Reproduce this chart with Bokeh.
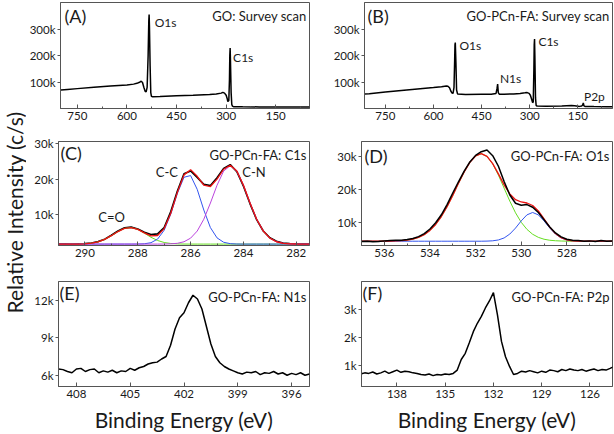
from bokeh.plotting import figure
from bokeh.layouts import row, column
from bokeh.models import Range1d, FixedTicker, Label, CustomJSTickFormatter
from bokeh.embed import file_html
from bokeh.resources import INLINE

FONT = "Lato"

# ---------------- data (binding energy in eV, intensity in k c/s) ----------------
# (A) GO survey
a_pts = [(800, 70), (780, 72), (750, 75), (700, 80), (650, 85), (600, 89), (580, 92), (570, 95),
         (562, 99), (557, 103), (553, 98), (549, 80), (545, 65), (542, 63), (539, 80), (536, 200),
         (534, 330), (533, 355), (532, 310), (530, 160), (528, 60), (526, 46), (522, 44), (500, 45),
         (450, 48), (400, 50), (350, 53), (330, 55), (315, 58), (310, 61), (305, 58), (300, 50),
         (297, 38), (295, 26), (292, 30), (290, 110), (289, 200), (288, 228), (287, 180), (285, 60),
         (283, 15), (281, 9), (278, 7), (250, 6.5), (200, 6), (150, 6), (100, 5.5), (48, 5.5)]
# (B) GO-PCn-FA survey
b_pts = [(815, 55), (800, 56), (750, 62), (700, 68), (650, 74), (600, 79), (575, 82), (565, 84),
         (560, 85), (555, 84), (550, 78), (546, 66), (542, 58), (539, 57), (536, 80), (534, 180),
         (533, 240), (532, 249), (530, 170), (528, 70), (525, 55), (500, 53), (450, 54), (420, 54),
         (405, 57), (402, 75), (400, 92), (398, 60), (395, 54), (380, 54), (350, 55), (330, 57),
         (315, 59), (308, 60), (302, 57), (298, 50), (294, 35), (291, 22), (289, 25), (287, 150),
         (286, 240), (285, 262), (284, 200), (282, 40), (280, 12), (277, 9), (250, 8.5), (200, 9),
         (170, 11), (160, 10), (145, 8), (138, 9), (135, 13), (133, 21), (131, 10), (128, 8),
         (100, 7.5), (60, 7), (42, 7)]
# (C) C1s high resolution
c_be = [291.0, 290.75, 290.5, 290.25, 290.0, 289.75, 289.5, 289.25, 289.0, 288.75, 288.5, 288.25, 288.0,
        287.75, 287.5, 287.25, 287.0, 286.75, 286.5, 286.25, 286.0, 285.75, 285.5, 285.25, 285.0, 284.75,
        284.5, 284.25, 284.0, 283.75, 283.5, 283.25, 283.0, 282.75, 282.5, 282.25, 282.0, 281.75, 281.5]
c_raw = [1.7, 1.65, 1.6, 1.7, 1.75, 1.9, 2.3, 3.0, 4.1, 5.3, 6.2, 6.4, 5.9, 4.95, 4.3, 4.5, 6.3, 10.8, 16.6,
         21.5, 22.3, 20.5, 18.5, 18.2, 20.4, 23.0, 24.1, 22.1, 18.0, 13.0, 8.5, 5.3, 3.4, 2.4, 1.9, 1.75,
         1.7, 1.65, 1.7]
c_fit = [1.6, 1.6, 1.6, 1.61, 1.68, 1.85, 2.23, 2.94, 3.98, 5.15, 6.05, 6.28, 5.76, 4.78, 3.92, 4.03, 5.99,
         10.35, 16.25, 21.2, 22.68, 20.79, 18.28, 17.9, 20.01, 22.79, 23.92, 22.29, 18.25, 13.23, 8.64, 5.29,
         3.28, 2.26, 1.82, 1.67, 1.62, 1.6, 1.6]
c_co = [1.6, 1.6, 1.6, 1.61, 1.68, 1.85, 2.23, 2.94, 3.98, 5.15, 6.05, 6.28, 5.75, 4.69, 3.53, 2.62, 2.05,
        1.77, 1.65, 1.61, 1.6, 1.6, 1.6, 1.6, 1.6, 1.6, 1.6, 1.6, 1.6, 1.6, 1.6, 1.6, 1.6, 1.6, 1.6, 1.6,
        1.6, 1.6, 1.6]
c_cc = [1.6, 1.6, 1.6, 1.6, 1.6, 1.6, 1.6, 1.6, 1.6, 1.6, 1.6, 1.6, 1.61, 1.69, 1.99, 3.01, 5.52, 10.11,
        15.98, 20.53, 21.0, 17.1, 11.24, 6.27, 3.36, 2.12, 1.72, 1.62, 1.6, 1.6, 1.6, 1.6, 1.6, 1.6, 1.6,
        1.6, 1.6, 1.6, 1.6]
c_cn = [1.6, 1.6, 1.6, 1.6, 1.6, 1.6, 1.6, 1.6, 1.6, 1.6, 1.6, 1.6, 1.6, 1.6, 1.6, 1.6, 1.62, 1.67, 1.82,
        2.26, 3.28, 5.29, 8.64, 13.23, 18.25, 22.27, 23.8, 22.27, 18.25, 13.23, 8.64, 5.29, 3.28, 2.26,
        1.82, 1.67, 1.62, 1.6, 1.6]
# (D) O1s high resolution
d_be = [537.0, 536.75, 536.5, 536.25, 536.0, 535.75, 535.5, 535.25, 535.0, 534.75, 534.5, 534.25, 534.0,
        533.75, 533.5, 533.25, 533.0, 532.75, 532.5, 532.25, 532.0, 531.75, 531.5, 531.25, 531.0, 530.75,
        530.5, 530.25, 530.0, 529.75, 529.5, 529.25, 529.0, 528.75, 528.5, 528.25, 528.0, 527.75, 527.5,
        527.25, 527.0, 526.75, 526.5, 526.25, 526.0]
d_raw = [4.2, 4.3, 4.1, 4.2, 4.4, 4.5, 4.6, 4.6, 4.8, 5.1, 5.7, 6.6, 8.0, 9.9, 12.3, 15.4, 18.9, 22.3, 25.5,
         28.3, 30.3, 31.4, 31.9, 30.2, 27.0, 22.4, 18.3, 15.8, 15.2, 15.4, 14.6, 13.0, 10.8, 8.6, 6.8, 5.6,
         4.9, 4.6, 4.5, 4.3, 4.4, 4.2, 4.5, 4.3, 4.4]
d_fit = [4.3, 4.3, 4.3, 4.31, 4.32, 4.34, 4.38, 4.47, 4.64, 4.94, 5.47, 6.3, 7.57, 9.37, 11.77, 14.76, 18.19,
         21.83, 25.3, 28.2, 30.12, 30.8, 30.01, 27.81, 24.69, 21.36, 18.61, 16.88, 16.18, 15.87, 15.11,
         13.45, 11.05, 8.57, 6.61, 5.35, 4.7, 4.42, 4.33, 4.3, 4.3, 4.3, 4.3, 4.3, 4.3]
d_main = [4.3, 4.3, 4.3, 4.31, 4.32, 4.34, 4.38, 4.47, 4.64, 4.94, 5.47, 6.3, 7.57, 9.37, 11.77, 14.76, 18.19,
          21.83, 25.3, 28.2, 30.12, 30.8, 29.98, 27.69, 24.31, 20.37, 16.44, 12.9, 10.03, 7.89, 6.41, 5.47,
          4.9, 4.59, 4.44, 4.36, 4.32, 4.3, 4.3, 4.3, 4.3, 4.3, 4.3, 4.3, 4.3]
d_sub = [4.3, 4.3, 4.3, 4.3, 4.3, 4.3, 4.3, 4.3, 4.3, 4.3, 4.3, 4.3, 4.3, 4.3, 4.3, 4.3, 4.3, 4.3, 4.3, 4.3,
         4.3, 4.3, 4.33, 4.42, 4.68, 5.29, 6.47, 8.28, 10.45, 12.28, 13.0, 12.28, 10.45, 8.28, 6.47, 5.29,
         4.68, 4.42, 4.33, 4.3, 4.3, 4.3, 4.3, 4.3, 4.3]
# (E) N1s
e_pts = [(409.0, 6.5), (408.75, 6.45), (408.5, 6.3), (408.25, 6.2), (408.0, 6.5), (407.75, 6.55), (407.5, 6.3),
         (407.25, 6.45), (407.0, 6.5), (406.75, 6.2), (406.5, 6.35), (406.25, 6.25), (406.0, 6.4),
         (405.75, 6.2), (405.5, 6.35), (405.25, 6.3), (405.0, 6.55), (404.75, 6.4), (404.5, 6.6),
         (404.25, 6.7), (404.0, 6.9), (403.75, 7.0), (403.5, 7.05), (403.25, 7.3), (403.0, 7.5),
         (402.75, 8.4), (402.5, 9.7), (402.25, 10.6), (402.0, 11.0), (401.75, 11.8), (401.5, 12.4),
         (401.25, 12.1), (401.0, 11.3), (400.75, 9.9), (400.5, 8.5), (400.25, 7.5), (400.0, 7.0),
         (399.75, 6.7), (399.5, 6.5), (399.25, 6.35), (399.0, 6.2), (398.75, 6.1), (398.5, 6.25),
         (398.25, 6.2), (398.0, 6.3), (397.75, 6.05), (397.5, 6.2), (397.25, 6.15), (397.0, 6.3),
         (396.75, 6.1), (396.5, 6.2), (396.25, 6.0), (396.0, 6.15), (395.75, 6.05), (395.5, 6.2),
         (395.25, 6.0), (395.0, 6.1)]
# (F) P2p
f_pts = [(140.25, 0.68), (140.0, 0.72), (139.75, 0.70), (139.5, 0.75), (139.25, 0.68), (139.0, 0.72),
         (138.75, 0.78), (138.5, 0.70), (138.25, 0.76), (138.0, 0.82), (137.75, 0.74), (137.5, 0.78),
         (137.25, 0.76), (137.0, 0.72), (136.75, 0.70), (136.5, 0.66), (136.25, 0.64), (136.0, 0.68),
         (135.75, 0.62), (135.5, 0.66), (135.25, 0.64), (135.0, 0.68), (134.75, 0.66), (134.5, 0.70),
         (134.25, 0.82), (134.0, 1.2), (133.75, 1.42), (133.5, 1.8), (133.25, 2.2), (133.0, 2.5),
         (132.75, 2.75), (132.5, 3.05), (132.25, 3.3), (132.0, 3.6), (131.75, 2.8), (131.5, 1.85),
         (131.25, 1.3), (131.0, 0.95), (130.75, 0.66), (130.5, 0.70), (130.25, 0.78), (130.0, 0.75),
         (129.75, 0.80), (129.5, 0.76), (129.25, 0.72), (129.0, 0.78), (128.75, 0.74), (128.5, 0.82),
         (128.25, 0.80), (128.0, 0.76), (127.75, 0.84), (127.5, 0.80), (127.25, 0.86), (127.0, 0.82),
         (126.75, 0.80), (126.5, 0.84), (126.25, 0.78), (126.0, 0.82), (125.75, 0.86), (125.5, 0.80),
         (125.25, 0.84), (125.0, 0.82), (124.75, 0.88), (124.5, 0.95)]

# ticks
survey_xticks = [750, 600, 450, 300, 150]
survey_xminor = [675, 525, 375, 225, 75]
survey_yticks = [100, 200, 300]
c_xticks = [290, 288, 286, 284, 282]
c_xminor = [289, 287, 285, 283]
c_yticks = [10, 20, 30]
d_xticks = [536, 534, 532, 530, 528]
d_xminor = [535, 533, 531, 529, 527]
d_yticks = [10, 20, 30]
e_xticks = [408, 405, 402, 399, 396]
e_xminor = []
e_yticks = [6, 9, 12]
f_xticks = [138, 135, 132, 129, 126]
f_xminor = []
f_yticks = [1, 2, 3]

AX = "#555555"
TXT = "#1a1a1a"
K_FMT = CustomJSTickFormatter(code="return tick + 'k'")


def panel(w, h, bl, br, bt, bb, xr, yr, xt, xm, yt, xlabel=None):
    p = figure(width=w, height=h, x_range=Range1d(*xr), y_range=Range1d(*yr),
               output_backend="svg", toolbar_location=None,
               min_border_left=bl, min_border_right=br, min_border_top=bt, min_border_bottom=bb)
    p.grid.visible = False
    p.outline_line_color = AX
    p.outline_line_width = 1
    p.background_fill_color = "white"
    p.border_fill_color = "white"
    xa, ya = p.xaxis[0], p.yaxis[0]
    xa.ticker = FixedTicker(ticks=xt, minor_ticks=xm)
    ya.ticker = FixedTicker(ticks=yt)
    ya.formatter = K_FMT
    for a in (xa, ya):
        a.axis_line_color = AX
        a.major_tick_line_color = AX
        a.minor_tick_line_color = AX
        a.major_label_text_font = FONT
        a.major_label_text_font_size = "11.5px"
        a.major_label_text_color = TXT
    xa.major_tick_in, xa.major_tick_out = 4, 0
    xa.minor_tick_in, xa.minor_tick_out = 2, 0
    xa.major_label_standoff = 3
    ya.major_tick_in, ya.major_tick_out = 0, 3
    ya.minor_tick_line_color = None
    ya.major_label_standoff = 2
    if xlabel:
        xa.axis_label = xlabel
        xa.axis_label_text_font = FONT
        xa.axis_label_text_font_size = "21px"
        xa.axis_label_text_font_style = "normal"
        xa.axis_label_text_color = TXT
        xa.axis_label_standoff = 6
    return p


def fx(p, f):
    return p.x_range.start + f * (p.x_range.end - p.x_range.start)


def fy(p, f):
    return p.y_range.start + f * (p.y_range.end - p.y_range.start)


def tag(p, letter, title, lx, ly, tx, ty):
    p.add_layout(Label(x=fx(p, lx), y=fy(p, ly), text=letter, text_font=FONT, text_font_size="18px",
                       text_align="left", text_baseline="middle", text_color=TXT))
    p.add_layout(Label(x=fx(p, tx), y=fy(p, ty), text=title, text_font=FONT, text_font_size="13px",
                       text_align="right", text_baseline="middle", text_color=TXT))


def note(p, x, y, text, align="left", size="12px"):
    p.add_layout(Label(x=x, y=y, text=text, text_font=FONT, text_font_size=size,
                       text_align=align, text_baseline="middle", text_color=TXT))


LW, LH1, LH2, LH3 = 304, 130, 138, 166
RW = 284

# (A)
pa = panel(LW, LH1, 32, 21, 2, 22, (801, 48), (0, 400), survey_xticks, survey_xminor, survey_yticks)
pa.line([e for e, _ in a_pts], [v for _, v in a_pts], line_color="black", line_width=1.5)
tag(pa, "(A)", "GO: Survey scan", 0.016, 0.872, 0.988, 0.877)
note(pa, 516, 323, "O1s")
note(pa, 279, 191, "C1s")

# (B)
pb = panel(RW, LH1, 31, 2, 2, 22, (815, 42), (0, 400), survey_xticks, survey_xminor, survey_yticks)
pb.line([e for e, _ in b_pts], [v for _, v in b_pts], line_color="black", line_width=1.5)
tag(pb, "(B)", "GO-PCn-FA: Survey scan", 0.012, 0.872, 0.988, 0.877)
note(pb, 519, 238, "O1s")
note(pb, 393, 113, "N1s")
note(pb, 273, 253, "C1s")
note(pb, 131, 45, "P2p")

# (C)
pc = panel(LW, LH2, 32, 21, 11, 23, (291.0, 281.5), (1.2, 30.65), c_xticks, c_xminor, c_yticks)
pc.line(c_be, c_raw, line_color="black", line_width=1.6)
pc.line(c_be, c_co, line_color="#66dd22", line_width=1)
pc.line(c_be, c_cc, line_color="#3355ee", line_width=1)
pc.line(c_be, c_cn, line_color="#bb44dd", line_width=1)
pc.line(c_be, c_fit, line_color="#ee1111", line_width=1.3)
tag(pc, "(C)", "GO-PCn-FA: C1s", 0.008, 0.89, 0.988, 0.875)
note(pc, 288.99, 9.4, "C=O", "center", "13px")
note(pc, 286.9, 21.9, "C-C", "center", "13px")
note(pc, 283.6, 21.9, "C-N", "center", "13px")

# (D)
pd_ = panel(RW, LH2, 31, 2, 11, 23, (537.0, 526.0), (3.0, 34.5), d_xticks, d_xminor, d_yticks)
pd_.line(d_be, d_main, line_color="#66dd22", line_width=1)
pd_.line(d_be, d_sub, line_color="#3355ee", line_width=1)
pd_.line(d_be, d_fit, line_color="#ee1111", line_width=1.3)
pd_.line(d_be, d_raw, line_color="black", line_width=1.5)
tag(pd_, "(D)", "GO-PCn-FA: O1s", 0.012, 0.856, 0.988, 0.865)

# (E)
pe = panel(LW, LH3, 32, 21, 13, 47, (409.0, 395.0), (5.1, 13.5), e_xticks, e_xminor, e_yticks,
           xlabel="Binding Energy (eV)")
pe.line([e for e, _ in e_pts], [v for _, v in e_pts], line_color="black", line_width=1.5)
tag(pe, "(E)", "GO-PCn-FA: N1s", 0.004, 0.89, 0.988, 0.85)

# (F)
pf = panel(RW, LH3, 31, 2, 13, 47, (140.2, 124.6), (0.23, 4.0), f_xticks, f_xminor, f_yticks,
           xlabel="Binding Energy (eV)")
pf.line([e for e, _ in f_pts], [v for _, v in f_pts], line_color="black", line_width=1.5)
tag(pf, "(F)", "GO-PCn-FA: P2p", 0.004, 0.89, 0.988, 0.85)

# y label strip
py = figure(width=26, height=434, x_range=Range1d(0, 26), y_range=Range1d(434, 0),
            output_backend="svg", toolbar_location=None, min_border=0,
            x_axis_location=None, y_axis_location=None)
py.grid.visible = False
py.outline_line_color = None
py.add_layout(Label(x=14, y=212, text="Relative Intensity (c/s)", angle=90, angle_units="deg",
                    text_font=FONT, text_font_size="21px", text_align="center",
                    text_baseline="middle", text_color=TXT))

layout = row(py, column(row(pa, pb), row(pc, pd_), row(pe, pf)),
             styles={"position": "absolute", "left": "0px", "top": "0px"})

open("out.html", "w").write(file_html(layout, INLINE))
